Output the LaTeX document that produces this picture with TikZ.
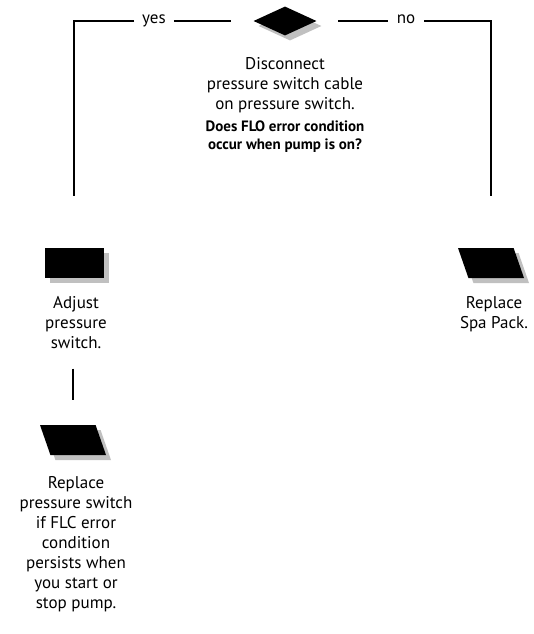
\documentclass[tikz,border=0pt]{standalone}
\usepackage{fontspec}
\setmainfont{PT Sans}
\usetikzlibrary{shapes.geometric,shadows}
\definecolor{shadowgray}{RGB}{192,192,192}
\tikzset{
  box/.style={fill=black, inner sep=0pt, drop shadow={shadow xshift=5pt, shadow yshift=-5pt, fill=shadowgray, opacity=1}},
  decision/.style={box, diamond, minimum width=63pt, minimum height=29pt},
  task/.style={box, rectangle, minimum width=59pt, minimum height=30pt},
  io/.style={box, inner sep=1pt, trapezium, trapezium stretches=true, trapezium left angle=103, trapezium right angle=77, minimum width=66pt, minimum height=30pt},
  txt/.style={align=center, font=\fontsize{17}{20}\selectfont, inner sep=0pt},
  line/.style={line width=1.1pt},
}
\begin{document}
\begin{tikzpicture}[x=1pt,y=-1pt]
\useasboundingbox (0,0) rectangle (533,634);

% symbols
\node[decision] (q) at (285,21) {};
\node[task] (adj) at (74,263) {};
\node[io] (spa) at (491,263) {};
\node[io] (repl) at (73,440) {};

% yes / no on the top line
\node[txt, inner xsep=8pt, anchor=mid] (yes) at (154,21) {yes};
\node[txt, inner xsep=9pt, anchor=mid] (no) at (406,21) {no};

% texts
\node[txt, anchor=north] (disc) at (285,57) {Disconnect\\pressure switch cable\\on pressure switch.};
\node[txt, anchor=north, font=\fontsize{15}{18}\selectfont\bfseries] (ask) at (285,121) {Does FLO error condition\\occur when pump is on?};
\node[txt, anchor=north] (adjtxt) at (76,296) {Adjust\\pressure\\switch.};
\node[txt, anchor=north] (spatxt) at (494,296) {Replace\\Spa Pack.};
\node[txt, anchor=north] (repltxt) at (76,476) {Replace\\pressure switch\\if FLC error\\condition\\persists when\\you start or\\stop pump.};

% lines
\draw[line, shorten >=52pt] (yes.mid west) -| (adj.north);
\draw[line, shorten >=22pt] (yes.mid east) -- (q.west);
\draw[line, shorten >=21pt] (no.mid west) -- (q.east);
\draw[line, shorten >=52pt] (no.mid east) -| (spa.north);
\draw[line, shorten <=20pt, shorten >=25pt] (repl.north |- adjtxt.south) -- (repl.north);

\end{tikzpicture}
\end{document}
